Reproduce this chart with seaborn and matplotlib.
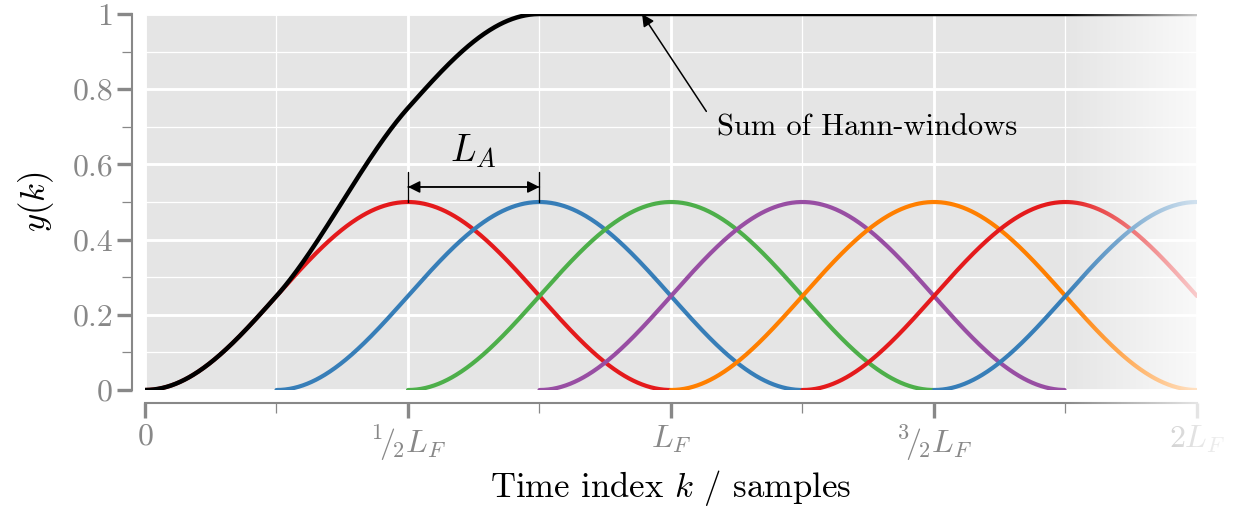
import numpy as np
import pandas as pd
import matplotlib
matplotlib.use("Agg")
import matplotlib.pyplot as plt
from matplotlib.ticker import FixedLocator
import seaborn as sns

# --- data (time axis in units of the frame length L_F) ---
FRAME_LEN = 1.0
HOP = 0.25
PEAK = 0.5
X_MAX = 2.0
window_starts = [0.0, 0.25, 0.5, 0.75, 1.0, 1.25, 1.5]
sum_starts = [0.0, 0.25, 0.5, 0.75, 1.0, 1.25, 1.5, 1.75, 2.0]
window_colors = ["#e41a1c", "#377eb8", "#4daf4a", "#984ea3",
                 "#ff7f00", "#e41a1c", "#377eb8"]
x_major = [0.0, 0.5, 1.0, 1.5, 2.0]
x_minor = [0.25, 0.75, 1.25, 1.75]
x_labels = ["$0$", r"${}^1\!/\!{}_2L_F$", "$L_F$", r"${}^3\!/\!{}_2L_F$", "$2L_F$"]
y_major = [0.0, 0.2, 0.4, 0.6, 0.8, 1.0]
y_minor = [0.1, 0.3, 0.5, 0.7, 0.9]
y_labels = ["0", "0.2", "0.4", "0.6", "0.8", "1"]

k = np.linspace(0, X_MAX, 1201)


def hann(start):
    w = PEAK / 2 * (1 - np.cos(2 * np.pi * (k - start) / FRAME_LEN))
    w[(k < start) | (k > start + FRAME_LEN)] = np.nan
    return w


rows = []
for i, s in enumerate(window_starts):
    rows.append(pd.DataFrame({"k": k, "y": hann(s), "win": i}))
df = pd.concat(rows).dropna()
total = np.sum([np.nan_to_num(hann(s)) for s in sum_starts], axis=0)

# --- style ---
sns.set_style("darkgrid", {"axes.facecolor": "#e5e5e5", "grid.color": "white",
                           "text.color": "black", "axes.labelcolor": "black"})
plt.rcParams["font.family"] = ["cmr10", "DejaVu Serif"]
plt.rcParams["mathtext.fontset"] = "cm"
plt.rcParams["axes.unicode_minus"] = False
plt.rcParams["axes.formatter.use_mathtext"] = True

fig = plt.figure(figsize=(12.35, 5.15), dpi=100)
ax = fig.add_axes([0.1174, 0.2427, 0.9692 - 0.1174, 0.9728 - 0.2427])

sns.lineplot(data=df, x="k", y="y", hue="win", palette=window_colors,
             legend=False, lw=3.0, ax=ax, solid_capstyle="round", estimator=None)
sns.lineplot(x=k, y=total, color="black", lw=3.2, ax=ax,
             solid_capstyle="round", zorder=5)

ax.set_xlim(0, X_MAX)
ax.set_ylim(0, 1)
ax.xaxis.set_major_locator(FixedLocator(x_major))
ax.xaxis.set_minor_locator(FixedLocator(x_minor))
ax.yaxis.set_major_locator(FixedLocator(y_major))
ax.yaxis.set_minor_locator(FixedLocator(y_minor))
ax.set_xticklabels(x_labels)
ax.set_yticklabels(y_labels)
ax.grid(which="major", color="white", lw=2.1)
ax.grid(which="minor", color="white", lw=0.9)
ax.set_axisbelow(True)

ax.tick_params(which="major", length=11, width=2.4, color="#888888",
               labelcolor="#888888", labelsize=23, pad=3)
ax.tick_params(which="minor", length=7, width=0.9, color="#888888")
ax.tick_params(axis="x", which="major", pad=4)
ax.tick_params(left=True, bottom=True, which="both")

sns.despine(ax=ax, offset=9, trim=True)
for side in ["left", "bottom"]:
    ax.spines[side].set_color("#888888")
    ax.spines[side].set_linewidth(1.5)
    ax.spines[side].set_visible(True)

ax.set_xlabel("Time index $k$ / samples", fontsize=25, labelpad=4, color="black")
ax.set_ylabel("$y(k)$", fontsize=25, labelpad=12, color="black")

# annotations
ax.annotate("Sum of Hann-windows", xy=(0.945, 1.0), xytext=(1.088, 0.697),
            fontsize=22, va="center", ha="left", color="black",
            arrowprops=dict(arrowstyle="-|>", color="black", lw=1.1,
                            relpos=(0, 0.5), shrinkA=10, shrinkB=0,
                            mutation_scale=18))
ax.annotate("", xy=(0.5, 0.54), xytext=(0.75, 0.54),
            arrowprops=dict(arrowstyle="<|-|>", color="black", lw=1.1,
                            shrinkA=0, shrinkB=0, mutation_scale=18))
ax.annotate("", xy=(0.5, 0.54), xytext=(0.75, 0.54),
            arrowprops=dict(arrowstyle="|-|, widthA=0.6, widthB=0.6",
                            color="black", lw=1.0, shrinkA=0, shrinkB=0,
                            mutation_scale=18))
ax.text(0.625, 0.585, "$L_A$", fontsize=27, ha="center", va="bottom")

# fade-out on the right side
fx0 = 1063 / 1235
fade = fig.add_axes([fx0, 0.0, 1 - fx0, 1.0], zorder=20)
n = 256
xs = np.linspace(1063, 1235, n)
alpha = np.interp(xs, [1063, 1197, 1235], [0.0, 0.78, 0.92])
img = np.ones((1, n, 4))
img[0, :, 3] = alpha
fade.imshow(img, aspect="auto", extent=(0, 1, 0, 1))
fade.set_axis_off()
fade.patch.set_alpha(0)

fig.savefig("out.png", dpi=100)
